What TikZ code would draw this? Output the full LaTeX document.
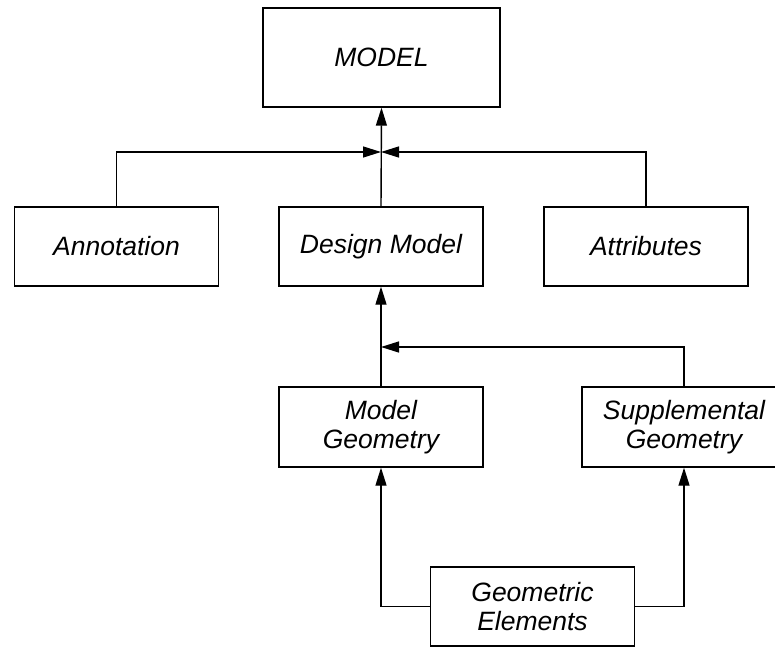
\documentclass[tikz,border=0pt]{standalone}
\usepackage{fontspec}
\setmainfont{Liberation Sans}
\usetikzlibrary{arrows.meta}
\begin{document}
\begin{tikzpicture}[x=1pt,y=-1pt,
  box/.style={draw,line width=1.4pt,minimum width=204pt,minimum height=79pt,inner sep=0pt,align=center,
    font=\fontsize{26.5}{29}\selectfont\itshape},
  conn/.style={line width=1.4pt},
  arr/.style={conn,-{Triangle[length=18pt,width=11pt]}}]
\useasboundingbox (0,0) rectangle (775,647);
\node[box,minimum width=237pt,minimum height=99pt] (model) at (381.5,57.5) {MODEL};
\node[box] (ann) at (116.5,246.5) {Annotation};
\node[box] (des) at (381,246.5) {Design Model};
\node[box] (att) at (646,246.5) {Attributes};
\node[box,minimum height=80pt] (mg) at (381,427) {Model\\Geometry};
\node[box,minimum height=80pt] (sg) at (684,427) {Supplemental\\Geometry};
\node[box] (ge) at (532.5,606.5) {Geometric\\Elements};
\coordinate (j1) at (381,152);
\coordinate (j2) at (381,347);
\draw[arr] (des.north) -- (model.south);
\draw[arr] (ann.north) |- (j1);
\draw[arr] (att.north) |- (j1);
\draw[arr] (mg.north) -- (des.south);
\draw[arr] (sg.north) |- (j2);
\draw[arr] (ge.west) -| (mg.south);
\draw[arr] (ge.east) -| (sg.south);
\end{tikzpicture}
\end{document}
